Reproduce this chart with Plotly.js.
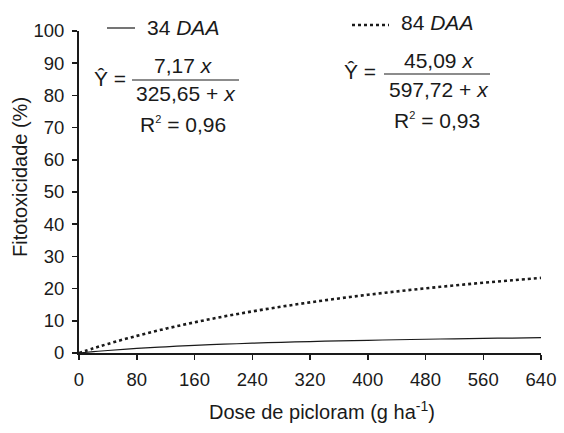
<!DOCTYPE html>
<html>
<head>
<meta charset="utf-8">
<script src="https://cdn.plot.ly/plotly-3.0.1.min.js"></script>
<style>html,body{margin:0;padding:0;background:#fff;}#chart{width:564px;height:433px;}</style>
</head>
<body>
<div id="chart"></div>
<script>
// Data
const doses = [0, 20, 40, 80, 120, 160, 200, 240, 280, 320, 360, 400, 440, 480, 520, 560, 600, 640];
const daa34 = [0, 0.42, 0.78, 1.41, 1.93, 2.36, 2.73, 3.04, 3.32, 3.55, 3.77, 3.95, 4.12, 4.27, 4.41, 4.53, 4.65, 4.75];
const daa84 = [0, 1.46, 2.83, 5.32, 7.54, 9.52, 11.31, 12.92, 14.38, 15.72, 16.95, 18.08, 19.12, 20.08, 20.98, 21.81, 22.59, 23.32];
const xTicks = [0, 80, 160, 240, 320, 400, 480, 560, 640];
const yTicks = [0, 10, 20, 30, 40, 50, 60, 70, 80, 90, 100];
const seriesNames = ['34 <i>DAA</i>', '84 <i>DAA</i>'];
const xTitle = 'Dose de picloram (g ha<sup>-1</sup>)';
const yTitle = 'Fitotoxicidade (%)';

const FONT = 'Liberation Sans, Arial, sans-serif';
const C = '#1a1a1a';

// pixel -> paper helpers (plot area 79..541 x, 31..353 y)
const L = 79, R = 541, T = 31, B = 353;
const px = v => (v - L) / (R - L);
const py = v => (B - v) / (B - T);

const traces = [
  {x: doses, y: daa34, name: seriesNames[0], mode: 'lines', line: {color: C, width: 1.2, shape: 'spline'}, cliponaxis: false},
  {x: doses, y: daa84, name: seriesNames[1], mode: 'lines', line: {color: C, width: 2.6, dash: 'dot', shape: 'spline'}, cliponaxis: false}
];

const ann = (x, y, text, xanchor, size, angle) => ({
  xref: 'paper', yref: 'paper', x: px(x), y: py(y), text: text, showarrow: false,
  xanchor: xanchor || 'center', yanchor: 'middle', textangle: angle || 0,
  font: {family: FONT, size: size || 21, color: C}
});

const sq = '<sup><span style="font-size:11px">2</span></sup>';

const layout = {
  width: 564, height: 433,
  margin: {l: L, r: 564 - R, t: T, b: 433 - B},
  paper_bgcolor: '#fff', plot_bgcolor: '#fff',
  showlegend: false,
  font: {family: FONT, size: 18, color: C},
  xaxis: {
    range: [0, 640], tickvals: xTicks, ticktext: xTicks.map(String),
    showgrid: false, zeroline: false, showline: true, linecolor: C, linewidth: 2,
    ticks: 'outside', ticklen: 5, tickwidth: 1.5, tickcolor: C, ticklabelstandoff: 4,
    tickfont: {family: FONT, size: 18.5, color: C}
  },
  yaxis: {
    range: [0, 100], tickvals: yTicks, ticktext: yTicks.map(String),
    showgrid: false, zeroline: false, showline: true, linecolor: C, linewidth: 2,
    ticks: 'outside', ticklen: 5, tickwidth: 1.5, tickcolor: C, ticklabelstandoff: 4,
    tickfont: {family: FONT, size: 18.5, color: C}
  },
  shapes: [
    {type: 'line', xref: 'paper', yref: 'paper', x0: px(107), x1: px(135), y0: py(28), y1: py(28), line: {color: C, width: 1.2}},
    {type: 'line', xref: 'paper', yref: 'paper', x0: px(352), x1: px(389), y0: py(25), y1: py(25), line: {color: C, width: 2.6, dash: 'dot'}},
    {type: 'line', xref: 'paper', yref: 'paper', x0: px(132), x1: px(239), y0: py(80), y1: py(80), line: {color: C, width: 1.2}},
    {type: 'line', xref: 'paper', yref: 'paper', x0: px(384), x1: px(490), y0: py(74), y1: py(74), line: {color: C, width: 1.2}}
  ],
  annotations: [
    ann(145, 28, seriesNames[0], 'left'),
    ann(399, 23, seriesNames[1], 'left'),
    ann(110, 78, 'Ŷ =', 'center'),
    ann(183, 65, '7,17 <i>x</i>', 'center'),
    ann(186, 93, '325,65 + <i>x</i>', 'center'),
    ann(183, 124, 'R' + sq + ' = 0,96', 'center'),
    ann(360, 72, 'Ŷ =', 'center'),
    ann(439, 60, '45,09 <i>x</i>', 'center'),
    ann(439, 90, '597,72 + <i>x</i>', 'center'),
    ann(437, 120, 'R' + sq + ' = 0,93', 'center'),
    ann(322, 410, xTitle, 'center', 20),
    ann(20, 177, yTitle, 'center', 20, -90)
  ]
};

Plotly.newPlot('chart', traces, layout, {displayModeBar: false, staticPlot: true});
</script>
</body>
</html>
